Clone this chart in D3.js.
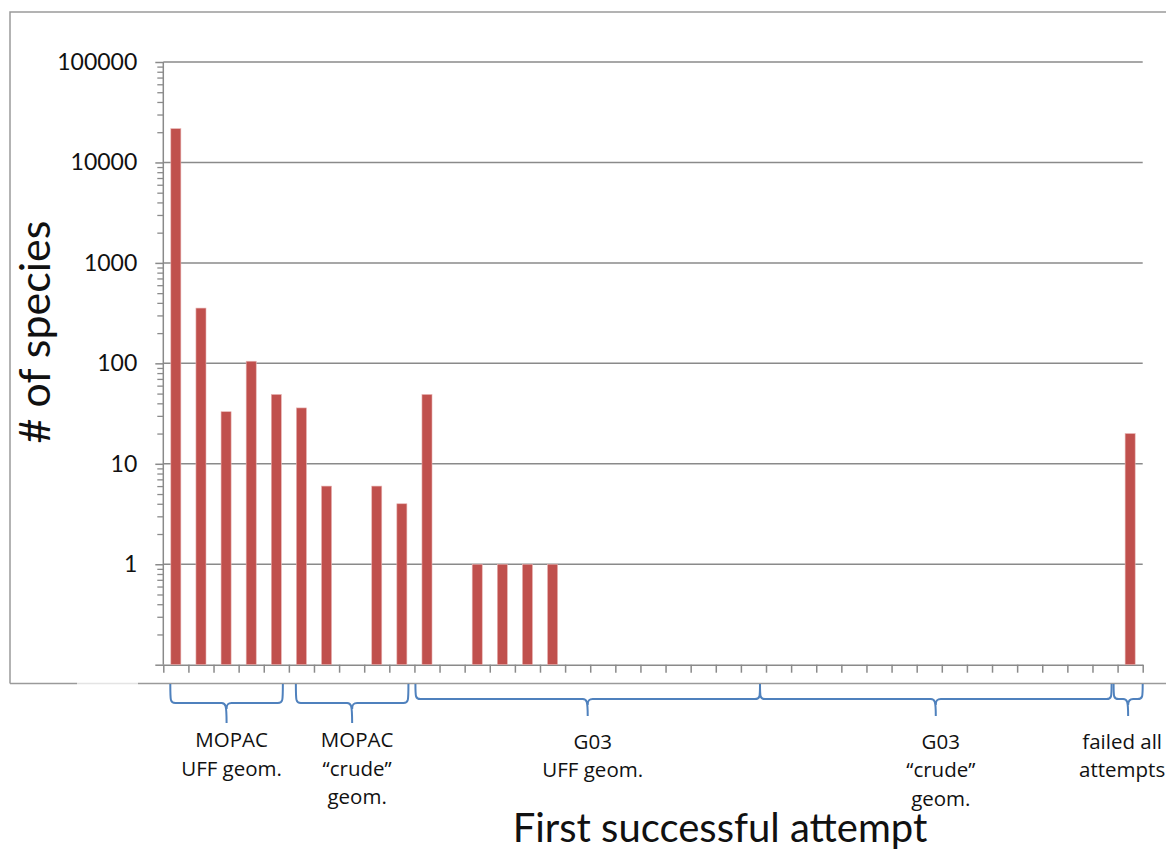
<!DOCTYPE html>
<html>
<head>
<meta charset="utf-8">
<script src="https://cdn.jsdelivr.net/npm/d3@7"></script>
<style>
  html, body { margin: 0; padding: 0; background: #fff; }
  svg { display: block; }
</style>
</head>
<body>
<svg id="chart" width="1166" height="854"></svg>
<script>
// ---- data ----
const categories = d3.range(1, 40).map(String);           // 39 attempt slots
const speciesCounts = [21700, 355, 33, 105, 49, 36, 6, null, 6, 4, 49, null, 1, 1, 1, 1,
  null, null, null, null, null, null, null, null, null, null, null,
  null, null, null, null, null, null, null, null, null, null, null, 20];
const yMajorTicks = [0.1, 1, 10, 100, 1000, 10000, 100000];
const yTickLabels = ["", "1", "10", "100", "1000", "10000", "100000"];
const groupStart = [0, 5, 10, 24, 38];
const groupEnd   = [5, 10, 24, 38, 39];
const groupLabels = [
  ["MOPAC", "UFF geom."],
  ["MOPAC", "\u201Ccrude\u201D", "geom."],
  ["G03", "UFF geom."],
  ["G03", "\u201Ccrude\u201D", "geom."],
  ["failed all", "attempts"]
];
const xTitle = "First successful attempt";
const yTitle = "# of species";

// ---- layout ----
const svg = d3.select("#chart");
const pLeft = 163.3, pRight = 1142.7, pTop = 62, pBottom = 664.7;
const grey = "#8a8a8a";
const font = "Lato, 'Open Sans', sans-serif";
const labelFont = "'Open Sans', Lato, sans-serif";

const x = d3.scaleBand().domain(categories).range([pLeft, pRight]).paddingInner(0.6).paddingOuter(0.3);
const xb = d3.scaleLinear().domain([0, categories.length]).range([pLeft, pRight]);
const y = d3.scaleLog().domain([0.1, 100000]).range([pBottom, pTop]);

// outer frame
const frame = svg.append("g").attr("fill", "none").attr("stroke-width", 1.5);
frame.append("path").attr("stroke", "#9a9a9a").attr("d", `M10,683.5 L10,12 L1180,12`);
frame.append("path").attr("stroke", "#9a9a9a").attr("d", `M10,683.5 L77,683.5 M138,683.5 L1180,683.5`);
frame.append("path").attr("stroke", "#e4e4e4").attr("d", `M77,683.5 L138,683.5`);

// gridlines
svg.append("g").selectAll("line")
  .data(yMajorTicks.filter(v => v > 0.1))
  .join("line")
  .attr("x1", pLeft).attr("x2", pRight)
  .attr("y1", d => y(d)).attr("y2", d => y(d))
  .attr("stroke", grey).attr("stroke-width", 1.5);

// minor y ticks
const minor = [];
for (let e = -1; e < 5; e++) for (let m = 2; m <= 9; m++) minor.push(m * Math.pow(10, e));
const yMinorAxis = d3.axisLeft(y).tickValues(minor).tickSize(6).tickFormat("");
const gMinor = svg.append("g").attr("transform", `translate(${pLeft},0)`).call(yMinorAxis);
gMinor.select(".domain").remove();
gMinor.selectAll("line").attr("stroke", grey).attr("stroke-width", 1.3);

// major y axis
const yAxis = d3.axisLeft(y).tickValues(yMajorTicks).tickSize(8).tickPadding(18)
  .tickFormat((d, i) => yTickLabels[i]);
const gy = svg.append("g").attr("transform", `translate(${pLeft},0)`).call(yAxis);
gy.select(".domain").attr("stroke", grey).attr("stroke-width", 1.5).attr("d", `M0,${pTop}V${pBottom}`);
gy.selectAll("line").attr("stroke", grey).attr("stroke-width", 1.5);
gy.selectAll("text").attr("font-family", font).attr("font-size", 23).attr("fill", "#111");

// x axis (category boundary ticks)
const xAxis = d3.axisBottom(xb).tickValues(d3.range(0, categories.length + 1)).tickSize(8).tickSizeOuter(0).tickFormat("");
const gx = svg.append("g").attr("transform", `translate(0,${pBottom})`).call(xAxis);
gx.select(".domain").attr("stroke", grey).attr("stroke-width", 1.5);
gx.selectAll("line").attr("stroke", grey).attr("stroke-width", 1.5);

// bars
const barData = categories.map((c, i) => ({ c, v: speciesCounts[i] })).filter(d => d.v != null);
svg.append("g").selectAll("rect")
  .data(barData)
  .join("rect")
  .attr("x", d => x(d.c))
  .attr("width", x.bandwidth())
  .attr("y", d => y(d.v))
  .attr("height", d => y(0.1) - y(d.v))
  .attr("fill", "#C0504D")
  .attr("stroke", "#E8B4B3")
  .attr("stroke-width", 0.6);

// braces
const braceTop = 684;
function bracePath(x0, x1, h, tip) {
  const cx = (x0 + x1) / 2, r = 5;
  return `M${x0},${braceTop} C${x0},${h - 2} ${x0},${h} ${x0 + r},${h}` +
    ` L${cx - r},${h} C${cx - 1},${h} ${cx},${h + 2} ${cx},${tip}` +
    ` M${cx},${h + 6} C${cx},${h + 2} ${cx + 1},${h} ${cx + r},${h}` +
    ` L${x1 - r},${h} C${x1},${h} ${x1},${h - 2} ${x1},${braceTop}`;
}
const braceGeo = [];
groupStart.forEach((s, i) => {
  const x1 = xb(groupEnd[i]) - (i === 4 ? 0 : 6);
  let x0;
  if (i === 0 || i === 1) x0 = xb(s) + 7;
  else if (i === 2) x0 = xb(s) + 1;
  else x0 = braceGeo[i - 1].x1 + (i === 4 ? 2 : 0);
  const deep = i < 2;
  braceGeo.push({ x0, x1, h: deep ? 703 : 699, tip: deep ? 723 : 716 });
});
svg.append("g").selectAll("path")
  .data(braceGeo)
  .join("path")
  .attr("d", d => bracePath(d.x0, d.x1, d.h, d.tip))
  .attr("fill", "none").attr("stroke", "#4F81BD").attr("stroke-width", 2);

// group labels
const gl = svg.append("g").attr("font-family", labelFont).attr("font-size", 20.5).attr("fill", "#111").attr("text-anchor", "middle");
groupLabels.forEach((lines, i) => {
  const cx = (braceGeo[i].x0 + braceGeo[i].x1) / 2 + (i === 4 ? -6 : 5);
  const base = i < 2 ? 747 : 748.5;
  const t = gl.append("text").attr("x", cx).attr("y", base);
  lines.forEach((ln, k) => t.append("tspan").attr("x", cx).attr("y", base + k * 28.5).text(ln));
});

// axis titles
svg.append("text")
  .attr("x", (pLeft + pRight) / 2 + 67).attr("y", 842)
  .attr("text-anchor", "middle")
  .attr("font-family", font).attr("font-size", 40).attr("fill", "#111")
  .text(xTitle);
svg.append("text")
  .attr("transform", "translate(50,332) rotate(-90)")
  .attr("text-anchor", "middle")
  .attr("font-family", font).attr("font-size", 43).attr("fill", "#111")
  .text(yTitle);
</script>
</body>
</html>
